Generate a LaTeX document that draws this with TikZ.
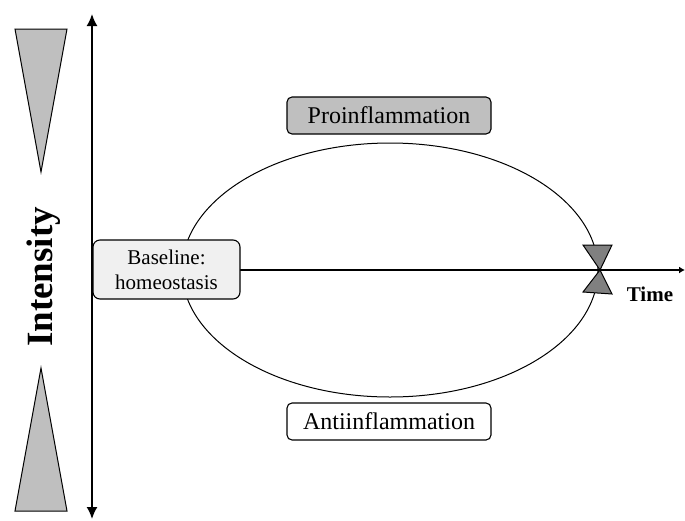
\documentclass[tikz,border=0pt]{standalone}
\usepackage{fontspec}
\setmainfont{Liberation Serif}
\usetikzlibrary{shapes.geometric, arrows.meta, positioning}
\tikzset{
    phase/.style={rectangle, draw=black, rounded corners=5pt, line width=1.1pt, minimum width=204pt, minimum height=37pt, text centered, font=\fontsize{24}{28}\selectfont},
    baseline box/.style={rectangle, draw=black, fill=black!6, rounded corners=7pt, line width=1.1pt, minimum width=147pt, minimum height=59pt, inner sep=2pt, align=center, font=\fontsize{21}{25}\selectfont},
    ring/.style={ellipse, draw=black, line width=1pt, minimum width=416pt, minimum height=254pt, inner sep=0pt},
    axis/.style={line width=1.7pt},
    wedge/.style={draw=black, fill=black!25, line width=1pt},
    knot/.style={draw=black, fill=black!50, line width=1pt}
}
\begin{document}
\begin{tikzpicture}[x=1pt, y=-1pt]
    \useasboundingbox (0,0) rectangle (685,520);
    % Nodes
    \node (loop) [ring] at (390,270) {};
    \node (pro) [phase, fill=black!25] at (389,115.5) {Proinflammation};
    \node (anti) [phase, fill=white] at (389,421.5) {Antiinflammation};
    \coordinate (ytop) at (92,14);
    \coordinate (ybot) at (92,519);
    \coordinate (tend) at (685,270);
    \coordinate (cross) at (600,270);
    \node (intensity) [rotate=90, font=\bfseries\fontsize{37}{40}\selectfont] at (44,277) {Intensity};
    \node (time) [font=\bfseries\fontsize{21}{24}\selectfont] at (650,294) {Time};
    % Axes
    \draw [axis, {Latex[length=12pt,width=11pt]}-{Latex[length=12pt,width=11pt]}] (ybot) -- (ytop);
    \draw [line width=1.6pt, -{Latex[length=6pt,width=7pt]}] (92,270) -- (tend);
    \node (base) [baseline box] at (166.5,269.5) {Baseline:\\homeostasis};
    % Wedges
    \draw [wedge] (15,29) -- (67,29) -- (41,172) -- cycle;
    \draw [wedge] (15,511) -- (67,511) -- (41,368) -- cycle;
    \draw [knot] (cross) -- (583,245) -- (612,245) -- cycle;
    \draw [knot] (cross) -- (583,292) -- (612,294) -- cycle;
\end{tikzpicture}
\end{document}
